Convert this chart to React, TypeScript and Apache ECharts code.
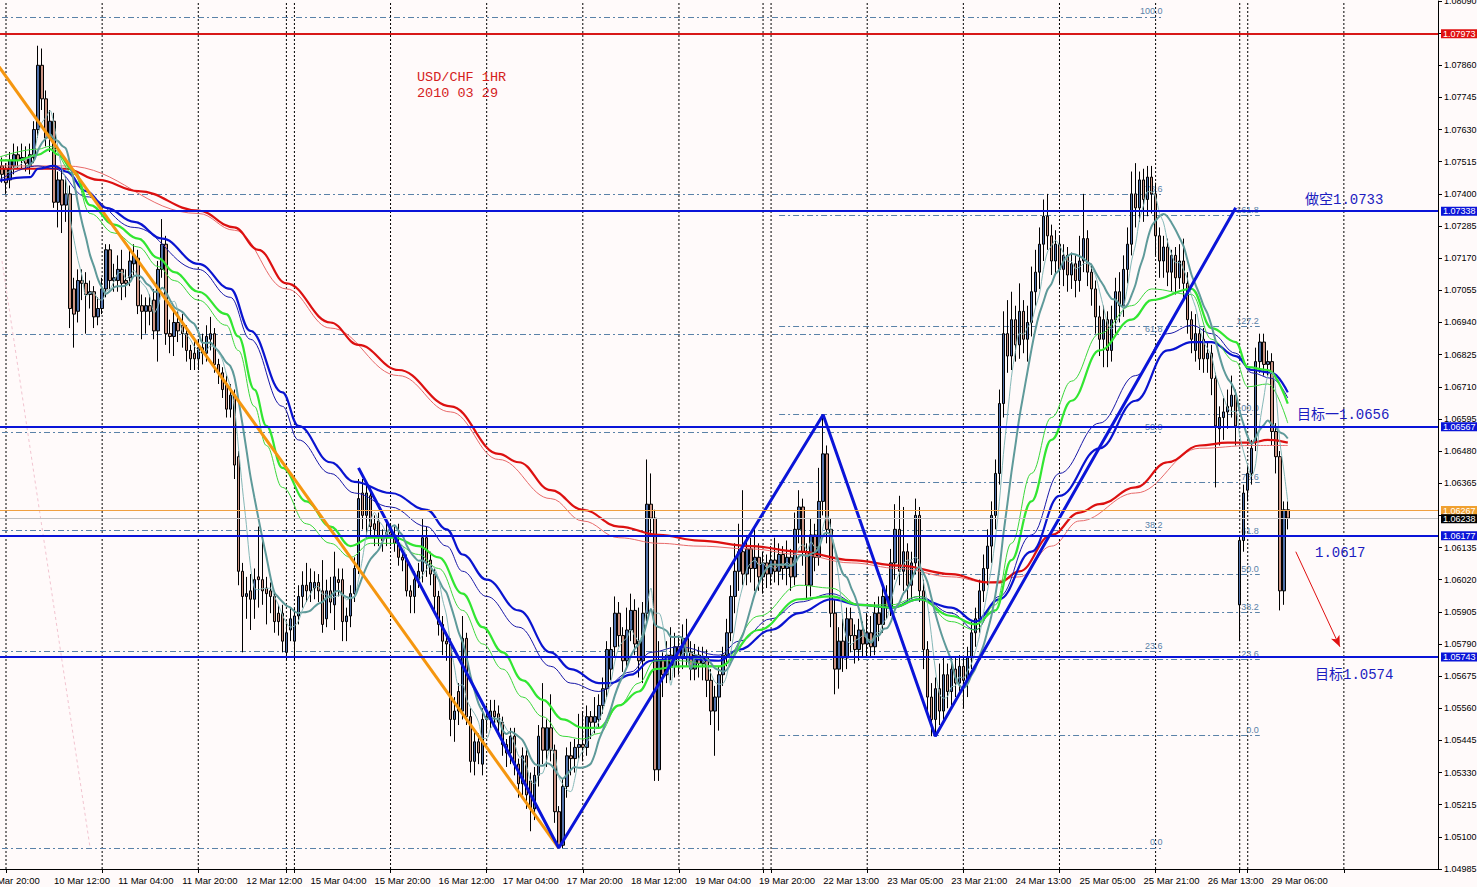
import React, { useEffect, useRef } from "react";
import * as echarts from "echarts";

// ---- time axis: trading sessions [day, first hour, last hour] ----
const sessions: [string, number, number][] = [
  ["9 Mar", 20, 23], ["10 Mar", 0, 23], ["11 Mar", 0, 23], ["12 Mar", 0, 21], ["14 Mar", 22, 23],
  ["15 Mar", 0, 23], ["16 Mar", 0, 23], ["17 Mar", 0, 23], ["18 Mar", 0, 23], ["19 Mar", 0, 20],
  ["21 Mar", 22, 23], ["22 Mar", 0, 23], ["23 Mar", 0, 23], ["24 Mar", 0, 23], ["25 Mar", 0, 23],
  ["26 Mar", 0, 20], ["28 Mar", 22, 23], ["29 Mar", 0, 23], ["30 Mar", 0, 23],
];
const firstVisibleBar = 3;
const lastLabelledBar = 320;

// ---- hourly candles [open, close, low, high] ----
const candles: number[][] = [
  [1.0748,1.0750,1.0745,1.0753],[1.0750,1.0747,1.0744,1.0752],[1.0747,1.0750,1.0745,1.0754],[1.0750,1.0747,1.0744,1.0753],
  [1.0749,1.0744,1.0740,1.0751],[1.0745,1.0752,1.0742,1.0755],[1.0750,1.0754,1.0747,1.0758],[1.0754,1.0752,1.0749,1.0757],
  [1.0752,1.0753,1.0749,1.0758],[1.0753,1.0751,1.0748,1.0757],[1.0750,1.0754,1.0747,1.0758],[1.0753,1.0763,1.0751,1.0766],
  [1.0763,1.0786,1.0760,1.0793],[1.0786,1.0774,1.0770,1.0792],[1.0774,1.0760,1.0757,1.0777],[1.0760,1.0766,1.0755,1.0770],
  [1.0766,1.0737,1.0735,1.0769],[1.0737,1.0745,1.0728,1.0748],[1.0745,1.0736,1.0726,1.0750],[1.0736,1.0740,1.0730,1.0746],
  [1.0740,1.0699,1.0692,1.0743],[1.0706,1.0697,1.0685,1.0710],[1.0698,1.0709,1.0694,1.0713],[1.0709,1.0708,1.0702,1.0713],
  [1.0708,1.0704,1.0690,1.0712],[1.0704,1.0705,1.0699,1.0709],[1.0705,1.0696,1.0692,1.0707],[1.0696,1.0699,1.0693,1.0703],
  [1.0699,1.0706,1.0697,1.0710],[1.0706,1.0720,1.0703,1.0722],[1.0720,1.0709,1.0706,1.0722],[1.0709,1.0710,1.0705,1.0715],
  [1.0709,1.0713,1.0705,1.0718],[1.0713,1.0708,1.0702,1.0720],[1.0709,1.0708,1.0703,1.0713],[1.0710,1.0716,1.0707,1.0720],
  [1.0715,1.0718,1.0711,1.0722],[1.0717,1.0700,1.0697,1.0720],[1.0700,1.0698,1.0688,1.0704],[1.0698,1.0700,1.0690,1.0703],
  [1.0700,1.0698,1.0693,1.0704],[1.0702,1.0691,1.0688,1.0706],[1.0691,1.0713,1.0680,1.0716],[1.0713,1.0722,1.0710,1.0731],
  [1.0722,1.0690,1.0686,1.0725],[1.0690,1.0689,1.0683,1.0695],[1.0689,1.0694,1.0682,1.0698],[1.0694,1.0691,1.0687,1.0698],
  [1.0693,1.0690,1.0685,1.0697],[1.0690,1.0684,1.0680,1.0693],[1.0684,1.0681,1.0677,1.0686],[1.0683,1.0681,1.0677,1.0688],
  [1.0681,1.0685,1.0677,1.0688],[1.0685,1.0683,1.0679,1.0690],[1.0683,1.0689,1.0680,1.0693],[1.0688,1.0690,1.0684,1.0696],
  [1.0690,1.0679,1.0676,1.0692],[1.0679,1.0676,1.0672,1.0681],[1.0676,1.0670,1.0667,1.0678],[1.0672,1.0663,1.0660,1.0675],
  [1.0663,1.0668,1.0660,1.0672],[1.0668,1.0643,1.0638,1.0670],[1.0646,1.0605,1.0600,1.0648],[1.0605,1.0596,1.0576,1.0608],
  [1.0596,1.0597,1.0588,1.0603],[1.0598,1.0595,1.0584,1.0604],[1.0595,1.0602,1.0588,1.0606],[1.0603,1.0602,1.0592,1.0621],
  [1.0602,1.0598,1.0593,1.0618],[1.0599,1.0597,1.0586,1.0603],[1.0598,1.0596,1.0590,1.0601],[1.0596,1.0587,1.0583,1.0598],
  [1.0590,1.0587,1.0582,1.0593],[1.0590,1.0580,1.0576,1.0593],[1.0576,1.0583,1.0573,1.0587],[1.0584,1.0588,1.0580,1.0592],
  [1.0580,1.0589,1.0573,1.0592],[1.0589,1.0596,1.0586,1.0600],[1.0596,1.0600,1.0592,1.0605],[1.0600,1.0598,1.0594,1.0608],
  [1.0598,1.0601,1.0594,1.0606],[1.0599,1.0601,1.0595,1.0605],[1.0601,1.0598,1.0594,1.0604],[1.0598,1.0586,1.0583,1.0609],
  [1.0588,1.0598,1.0585,1.0602],[1.0598,1.0594,1.0590,1.0603],[1.0593,1.0603,1.0584,1.0612],[1.0602,1.0601,1.0596,1.0606],
  [1.0602,1.0587,1.0580,1.0606],[1.0587,1.0589,1.0580,1.0592],[1.0589,1.0597,1.0585,1.0600],[1.0597,1.0606,1.0594,1.0610],
  [1.0606,1.0631,1.0604,1.0638],[1.0633,1.0625,1.0620,1.0638],[1.0625,1.0633,1.0617,1.0636],[1.0632,1.0621,1.0617,1.0635],
  [1.0622,1.0620,1.0614,1.0625],[1.0623,1.0617,1.0614,1.0626],[1.0617,1.0616,1.0612,1.0620],[1.0617,1.0619,1.0614,1.0623],
  [1.0619,1.0618,1.0614,1.0622],[1.0618,1.0615,1.0612,1.0621],[1.0615,1.0610,1.0607,1.0622],[1.0610,1.0609,1.0605,1.0612],
  [1.0609,1.0598,1.0596,1.0611],[1.0598,1.0596,1.0590,1.0600],[1.0596,1.0602,1.0590,1.0605],[1.0602,1.0605,1.0599,1.0608],
  [1.0605,1.0617,1.0601,1.0624],[1.0617,1.0608,1.0603,1.0621],[1.0609,1.0604,1.0600,1.0612],[1.0604,1.0596,1.0590,1.0606],
  [1.0596,1.0586,1.0582,1.0598],[1.0586,1.0580,1.0575,1.0589],[1.0580,1.0579,1.0573,1.0583],[1.0579,1.0552,1.0546,1.0581],
  [1.0552,1.0555,1.0544,1.0560],[1.0562,1.0555,1.0550,1.0565],[1.0555,1.0581,1.0552,1.0589],[1.0581,1.0553,1.0550,1.0583],
  [1.0553,1.0537,1.0533,1.0556],[1.0537,1.0544,1.0532,1.0548],[1.0544,1.0540,1.0536,1.0547],[1.0536,1.0552,1.0532,1.0556],
  [1.0552,1.0553,1.0547,1.0557],[1.0552,1.0555,1.0549,1.0559],[1.0555,1.0553,1.0549,1.0559],[1.0554,1.0551,1.0546,1.0557],
  [1.0551,1.0543,1.0539,1.0553],[1.0543,1.0540,1.0535,1.0545],[1.0540,1.0546,1.0536,1.0549],[1.0546,1.0536,1.0532,1.0549],
  [1.0536,1.0529,1.0524,1.0538],[1.0529,1.0539,1.0525,1.0542],[1.0539,1.0525,1.0520,1.0541],[1.0530,1.0520,1.0512,1.0533],
  [1.0520,1.0532,1.0516,1.0535],[1.0532,1.0546,1.0528,1.0550],[1.0549,1.0541,1.0536,1.0565],[1.0541,1.0549,1.0535,1.0552],
  [1.0549,1.0541,1.0537,1.0561],[1.0541,1.0519,1.0515,1.0543],[1.0519,1.0507,1.0506,1.0521],[1.0507,1.0528,1.0506,1.0531],
  [1.0528,1.0539,1.0524,1.0542],[1.0539,1.0538,1.0532,1.0544],[1.0538,1.0542,1.0533,1.0545],[1.0542,1.0543,1.0538,1.0554],
  [1.0543,1.0542,1.0537,1.0555],[1.0542,1.0553,1.0539,1.0557],[1.0553,1.0551,1.0545,1.0555],[1.0551,1.0553,1.0547,1.0560],
  [1.0552,1.0557,1.0549,1.0561],[1.0557,1.0563,1.0554,1.0567],[1.0563,1.0577,1.0560,1.0580],[1.0570,1.0577,1.0566,1.0585],
  [1.0578,1.0590,1.0574,1.0596],[1.0590,1.0582,1.0578,1.0594],[1.0582,1.0573,1.0569,1.0585],[1.0573,1.0584,1.0570,1.0592],
  [1.0584,1.0591,1.0580,1.0597],[1.0591,1.0579,1.0575,1.0595],[1.0580,1.0573,1.0567,1.0592],[1.0573,1.0590,1.0565,1.0594],
  [1.0590,1.0629,1.0587,1.0645],[1.0629,1.0624,1.0618,1.0640],[1.0624,1.0534,1.0530,1.0627],[1.0534,1.0573,1.0530,1.0580],
  [1.0573,1.0568,1.0560,1.0576],[1.0568,1.0575,1.0565,1.0580],[1.0575,1.0571,1.0566,1.0585],[1.0571,1.0578,1.0567,1.0583],
  [1.0578,1.0574,1.0568,1.0582],[1.0574,1.0581,1.0570,1.0586],[1.0581,1.0576,1.0571,1.0588],[1.0576,1.0570,1.0566,1.0580],
  [1.0570,1.0575,1.0566,1.0579],[1.0575,1.0572,1.0567,1.0578],[1.0572,1.0574,1.0566,1.0578],[1.0574,1.0566,1.0560,1.0577],
  [1.0566,1.0555,1.0550,1.0570],[1.0555,1.0560,1.0539,1.0564],[1.0560,1.0568,1.0548,1.0571],[1.0568,1.0575,1.0564,1.0578],
  [1.0575,1.0583,1.0571,1.0588],[1.0583,1.0596,1.0580,1.0600],[1.0596,1.0605,1.0590,1.0615],[1.0605,1.0612,1.0598,1.0622],
  [1.0612,1.0604,1.0600,1.0634],[1.0604,1.0613,1.0600,1.0618],[1.0613,1.0606,1.0601,1.0617],[1.0606,1.0610,1.0598,1.0620],
  [1.0610,1.0603,1.0598,1.0615],[1.0603,1.0608,1.0597,1.0612],[1.0608,1.0604,1.0599,1.0611],[1.0604,1.0609,1.0600,1.0614],
  [1.0609,1.0605,1.0601,1.0617],[1.0605,1.0611,1.0600,1.0615],[1.0611,1.0606,1.0602,1.0614],[1.0606,1.0610,1.0600,1.0616],
  [1.0610,1.0603,1.0598,1.0613],[1.0603,1.0620,1.0600,1.0626],[1.0620,1.0628,1.0615,1.0634],[1.0628,1.0612,1.0607,1.0631],
  [1.0612,1.0600,1.0595,1.0615],[1.0600,1.0618,1.0596,1.0624],[1.0618,1.0610,1.0605,1.0622],[1.0610,1.0630,1.0607,1.0642],
  [1.0630,1.0647,1.0625,1.0661],[1.0647,1.0620,1.0615,1.0650],[1.0620,1.0590,1.0585,1.0624],[1.0590,1.0570,1.0561,1.0595],
  [1.0570,1.0580,1.0563,1.0585],[1.0580,1.0574,1.0569,1.0588],[1.0574,1.0588,1.0570,1.0592],[1.0588,1.0582,1.0576,1.0592],
  [1.0582,1.0577,1.0572,1.0586],[1.0577,1.0584,1.0573,1.0588],[1.0584,1.0579,1.0574,1.0587],[1.0579,1.0583,1.0574,1.0590],
  [1.0583,1.0578,1.0574,1.0589],[1.0578,1.0590,1.0575,1.0594],[1.0590,1.0586,1.0580,1.0596],[1.0586,1.0596,1.0583,1.0600],
  [1.0596,1.0592,1.0588,1.0600],[1.0592,1.0608,1.0589,1.0613],[1.0608,1.0620,1.0602,1.0629],[1.0620,1.0605,1.0600,1.0632],
  [1.0605,1.0612,1.0598,1.0628],[1.0612,1.0600,1.0595,1.0615],[1.0600,1.0608,1.0595,1.0612],[1.0608,1.0625,1.0604,1.0631],
  [1.0625,1.0598,1.0594,1.0628],[1.0598,1.0577,1.0570,1.0602],[1.0577,1.0560,1.0555,1.0580],[1.0560,1.0552,1.0546,1.0565],
  [1.0552,1.0563,1.0546,1.0567],[1.0563,1.0555,1.0550,1.0572],[1.0555,1.0568,1.0551,1.0574],[1.0568,1.0562,1.0556,1.0572],
  [1.0562,1.0570,1.0557,1.0574],[1.0570,1.0565,1.0560,1.0574],[1.0565,1.0571,1.0561,1.0575],[1.0571,1.0566,1.0556,1.0574],
  [1.0566,1.0574,1.0560,1.0578],[1.0574,1.0583,1.0570,1.0587],[1.0583,1.0588,1.0578,1.0592],[1.0588,1.0598,1.0583,1.0602],
  [1.0598,1.0606,1.0594,1.0611],[1.0606,1.0614,1.0600,1.0620],[1.0614,1.0625,1.0608,1.0630],[1.0625,1.0640,1.0620,1.0645],
  [1.0640,1.0665,1.0636,1.0670],[1.0665,1.0690,1.0660,1.0698],[1.0690,1.0682,1.0676,1.0702],[1.0682,1.0695,1.0677,1.0705],
  [1.0695,1.0686,1.0680,1.0700],[1.0686,1.0698,1.0681,1.0708],[1.0698,1.0688,1.0683,1.0702],[1.0688,1.0694,1.0680,1.0700],
  [1.0694,1.0705,1.0689,1.0714],[1.0705,1.0712,1.0700,1.0720],[1.0712,1.0722,1.0706,1.0728],[1.0722,1.0732,1.0716,1.0738],
  [1.0732,1.0725,1.0720,1.0740],[1.0725,1.0716,1.0711,1.0729],[1.0716,1.0722,1.0711,1.0727],[1.0722,1.0713,1.0708,1.0725],
  [1.0713,1.0718,1.0707,1.0722],[1.0718,1.0711,1.0705,1.0721],[1.0711,1.0715,1.0706,1.0719],[1.0715,1.0709,1.0703,1.0718],
  [1.0709,1.0716,1.0705,1.0725],[1.0716,1.0724,1.0712,1.0740],[1.0724,1.0712,1.0707,1.0727],[1.0712,1.0706,1.0700,1.0715],
  [1.0706,1.0696,1.0690,1.0709],[1.0696,1.0688,1.0682,1.0700],[1.0688,1.0695,1.0678,1.0700],[1.0695,1.0684,1.0678,1.0698],
  [1.0684,1.0695,1.0680,1.0700],[1.0695,1.0705,1.0690,1.0710],[1.0705,1.0700,1.0694,1.0712],[1.0700,1.0713,1.0696,1.0718],
  [1.0713,1.0722,1.0708,1.0728],[1.0722,1.0740,1.0718,1.0748],[1.0740,1.0735,1.0728,1.0751],[1.0735,1.0745,1.0730,1.0748],
  [1.0745,1.0738,1.0730,1.0749],[1.0738,1.0746,1.0732,1.0750],[1.0746,1.0740,1.0733,1.0750],[1.0740,1.0725,1.0718,1.0744],
  [1.0725,1.0716,1.0710,1.0728],[1.0716,1.0721,1.0710,1.0725],[1.0721,1.0712,1.0707,1.0724],[1.0712,1.0718,1.0705,1.0720],
  [1.0718,1.0710,1.0704,1.0721],[1.0710,1.0716,1.0706,1.0722],[1.0716,1.0708,1.0702,1.0724],[1.0708,1.0695,1.0690,1.0712],
  [1.0695,1.0688,1.0683,1.0698],[1.0684,1.0690,1.0680,1.0697],[1.0690,1.0681,1.0677,1.0693],[1.0688,1.0681,1.0676,1.0692],
  [1.0681,1.0683,1.0676,1.0687],[1.0683,1.0674,1.0668,1.0686],[1.0674,1.0657,1.0635,1.0676],[1.0656,1.0660,1.0650,1.0664],
  [1.0660,1.0662,1.0652,1.0667],[1.0662,1.0664,1.0656,1.0670],[1.0664,1.0668,1.0660,1.0675],[1.0668,1.0657,1.0650,1.0670],
  [1.0593,1.0616,1.0580,1.0618],[1.0616,1.0633,1.0612,1.0636],[1.0634,1.0640,1.0630,1.0643],[1.0640,1.0649,1.0636,1.0652],
  [1.0651,1.0680,1.0648,1.0685],[1.0680,1.0687,1.0676,1.0690],[1.0687,1.0679,1.0675,1.0690],[1.0679,1.0680,1.0675,1.0684],
  [1.0680,1.0655,1.0650,1.0683],[1.0655,1.0646,1.0640,1.0658],[1.0646,1.0598,1.0591,1.0648],[1.0598,1.0627,1.0593,1.0630],
  [1.0627,1.0624,1.0620,1.0630],
];

// ---- moving averages: [bar index, price] ----
const maRedThick: number[][] = [
  [0,1.0749],[15,1.0749],[19,1.0749],[27,1.0745],[37,1.0741],[52,1.0734],[61,1.0728],[67,1.0720],[74,1.0708],
  [85,1.0694],[92,1.0686],[102,1.0677],[115,1.0664],[127,1.0647],[132,1.0644],[140,1.0634],[148,1.0627],
  [157,1.0621],[167,1.0618],[177,1.0616],[190,1.0614],[202,1.0612],[215,1.0609],[227,1.0607],[240,1.0604],
  [249,1.0601],[252,1.0601],[257,1.0605],[265,1.0618],[272,1.0626],[277,1.0629],[286,1.0635],[294,1.0644],
  [302,1.0650],[309,1.0651],[315,1.0651],[319,1.0652],[324,1.0651],
];
const maRedThin: number[][] = [
  [0,1.0750],[19,1.0750],[52,1.0733],[61,1.0727],[74,1.0706],[85,1.0692],[102,1.0675],[115,1.0662],[127,1.0645],
  [140,1.0631],[148,1.0623],[157,1.0617],[167,1.0615],[177,1.0614],[190,1.0613],[202,1.0611],[215,1.0608],
  [227,1.0606],[240,1.0603],[249,1.0601],[257,1.0603],[265,1.0614],[272,1.0623],[286,1.0633],[302,1.0649],
  [315,1.0650],[324,1.0650],
];
const maBlueThick: number[][] = [
  [0,1.0744],[10,1.0746],[12,1.0749],[16,1.0750],[19,1.0748],[24,1.0741],[29,1.0735],[36,1.0730],[43,1.0724],
  [52,1.0715],[60,1.0706],[65,1.0691],[73,1.0669],[77,1.0657],[85,1.0644],[91,1.0637],[100,1.0633],[109,1.0627],
  [114,1.0620],[118,1.0611],[124,1.0602],[132,1.0591],[140,1.0576],[145,1.0570],[152,1.0565],[155,1.0565],
  [160,1.0568],[165,1.0573],[172,1.0574],[182,1.0573],[187,1.0577],[195,1.0584],[202,1.0590],[210,1.0595],
  [217,1.0593],[225,1.0592],[232,1.0595],[240,1.0592],[246,1.0587],[252,1.0595],[260,1.0612],[267,1.0632],
  [277,1.0649],[286,1.0666],[294,1.0684],[300,1.0687],[305,1.0687],[311,1.0682],[315,1.0677],[320,1.0676],[324,1.0669],
];
const maBlueThin: number[][] = [
  [0,1.0743],[12,1.0750],[16,1.0749],[24,1.0739],[36,1.0728],[52,1.0713],[60,1.0703],[65,1.0688],[73,1.0664],
  [77,1.0652],[85,1.0640],[91,1.0633],[100,1.0628],[109,1.0621],[114,1.0614],[118,1.0605],[124,1.0596],
  [132,1.0585],[140,1.0571],[145,1.0565],[152,1.0562],[160,1.0569],[165,1.0576],[172,1.0578],[182,1.0575],
  [187,1.0580],[195,1.0588],[202,1.0594],[210,1.0597],[217,1.0593],[225,1.0592],[232,1.0596],[240,1.0590],
  [246,1.0584],[252,1.0596],[260,1.0618],[267,1.0640],[277,1.0658],[286,1.0675],[294,1.0690],[300,1.0693],
  [305,1.0690],[311,1.0683],[315,1.0676],[320,1.0674],[324,1.0667],
];
const maGreenThick: number[][] = [
  [0,1.0752],[7,1.0752],[12,1.0754],[15,1.0756],[17,1.0754],[21,1.0748],[25,1.0736],[31,1.0729],[37,1.0724],
  [42,1.0717],[46,1.0712],[52,1.0705],[59,1.0697],[62,1.0689],[66,1.0670],[69,1.0657],[73,1.0642],[79,1.0630],
  [85,1.0621],[90,1.0614],[95,1.0617],[101,1.0617],[107,1.0614],[112,1.0610],[118,1.0597],[123,1.0585],
  [128,1.0576],[133,1.0566],[138,1.0559],[143,1.0552],[148,1.0549],[152,1.0549],[157,1.0557],[162,1.0562],
  [166,1.0570],[172,1.0571],[182,1.0571],[192,1.0584],[202,1.0595],[210,1.0596],[217,1.0593],[225,1.0592],
  [232,1.0595],[240,1.0589],[246,1.0586],[251,1.0591],[255,1.0609],[260,1.0630],[265,1.0652],[270,1.0666],
  [277,1.0684],[285,1.0695],[290,1.0702],[300,1.0706],[305,1.0692],[311,1.0687],[314,1.0678],[319,1.0677],[324,1.0665],
];
const maGreenThin: number[][] = [
  [0,1.0752],[12,1.0756],[15,1.0757],[21,1.0747],[25,1.0733],[31,1.0726],[37,1.0721],[42,1.0714],[46,1.0709],
  [52,1.0702],[59,1.0693],[62,1.0684],[66,1.0664],[69,1.0650],[73,1.0635],[79,1.0622],[85,1.0615],[90,1.0610],
  [95,1.0615],[101,1.0615],[107,1.0611],[112,1.0606],[118,1.0591],[123,1.0579],[128,1.0570],[133,1.0560],
  [138,1.0553],[143,1.0546],[148,1.0545],[152,1.0547],[157,1.0557],[162,1.0565],[166,1.0573],[172,1.0573],
  [182,1.0571],[192,1.0589],[202,1.0600],[210,1.0599],[217,1.0593],[225,1.0593],[232,1.0596],[240,1.0587],
  [246,1.0584],[251,1.0593],[255,1.0615],[260,1.0640],[265,1.0660],[270,1.0673],[277,1.0690],[285,1.0700],
  [290,1.0706],[300,1.0704],[305,1.0688],[311,1.0680],[314,1.0671],[319,1.0672],[324,1.0658],
];
const shortMaPeriods = [10, 5];

// ---- drawn objects ----
const orangeTrend: number[][] = [[0, 1.0790], [142, 1.0506]];
const zigzag: number[][] = [[92, 1.0642], [142, 1.0506], [208, 1.0661], [236, 1.0546], [311, 1.0735]];
const fibLevels1 = [0, 23.6, 38.2, 50, 61.8, 78.6, 100];
const fibLevels2 = [0, 23.6, 38.2, 50, 61.8, 78.6, 100, 127.2, 161.8];
const fib1 = { low: 1.05061, high: 1.08033, from: 3, to: 293 };
const fib2 = { low: 1.05463, high: 1.06613, from: 197, to: 317 };
const fibBase1: number[][] = [[3, 1.0716], [25, 1.0506]];
const priceLevels = [1.07973, 1.07338, 1.06567, 1.06267, 1.06238, 1.06177, 1.05743];
const arrow: number[][] = [[326, 1.0612], [337, 1.0578]];
const yMin = 1.04985, yMax = 1.0809, yStep = 0.00115;

const notes = [
  { text: "USD/CHF 1HR", x: 417, y: 77, kind: "title" },
  { text: "2010 03 29", x: 417, y: 93, kind: "title" },
  { text: "做空1.0733", x: 1305, y: 200, kind: "note" },
  { text: "目标一1.0656", x: 1297, y: 415, kind: "note" },
  { text: "1.0617", x: 1315, y: 553, kind: "note" },
  { text: "目标1.0574", x: 1315, y: 675, kind: "note" },
];

export default function App() {
  const ref = useRef<HTMLDivElement>(null);
  useEffect(() => {
    if (!ref.current) return;
    const chart = echarts.init(ref.current, undefined, { renderer: "svg" });

    const times: string[] = [];
    const separators: number[] = [];
    sessions.forEach(([day, h0, h1], si) => {
      if (si > 0) separators.push(times.length);
      for (let h = h0; h <= h1; h++) times.push(`${day} ${String(h).padStart(2, "0")}:00`);
    });

    // vertical day separators as broken line segments (bar index, full price range)
    const separatorSegments: any[] = [];
    separators.forEach((i) => {
      separatorSegments.push([i, yMin], [i, yMax], [i, null]);
    });

    const sma = (p: number) =>
      candles.map((_, i) => {
        if (i < p - 1) return "-";
        let s = 0;
        for (let k = i - p + 1; k <= i; k++) s += candles[k][1];
        return +(s / p).toFixed(5);
      });

    const lineStyleMap: Record<number, any> = {
      0: { line: "#d81818", w: 2, box: "#e01010", txt: "#fff" },
      1: { line: "#0a14d8", w: 2, box: "#0a14d8", txt: "#fff" },
      2: { line: "#0a14d8", w: 2, box: "#0a14d8", txt: "#fff" },
      3: { line: "#f0a040", w: 1, box: "#f0a030", txt: "#fff" },
      4: { line: "#c0c0c0", w: 1, box: "#000000", txt: "#fff" },
      5: { line: "#0a14d8", w: 2, box: "#0a14d8", txt: "#fff" },
      6: { line: "#0a14d8", w: 2, box: "#0a14d8", txt: "#fff" },
    };

    const fibColor = "#5a82a8";
    const fibData = (f: any, levels: number[]) =>
      levels.map((lv) => {
        const price = f.low + ((f.high - f.low) * lv) / 100;
        return [
          { coord: [f.from, price], label: { formatter: lv.toFixed(1) } },
          { coord: [f.to, price] },
        ];
      });

    const maLine = (data: any, color: string, width: number, z = 4) => ({
      type: "line",
      data,
      smooth: 0.4,
      smoothMonotone: "x",
      showSymbol: false,
      silent: true,
      lineStyle: { color, width },
      z,
    });

    const carrier = (markLine: any) => ({
      type: "line",
      data: [],
      silent: true,
      markLine: { silent: true, precision: 5, emphasis: { disabled: true }, ...markLine },
    });

    const option: any = {
      animation: false,
      backgroundColor: "#fffafa",
      grid: { left: 0, right: 39, top: 1, bottom: 18, outerBoundsMode: "none", containLabel: false },
      xAxis: {
        type: "category",
        data: times,
        min: firstVisibleBar,
        boundaryGap: true,
        axisLine: { lineStyle: { color: "#000", width: 1 } },
        axisTick: {
          show: true,
          alignWithLabel: true,
          interval: (i: number) => separators.includes(i),
          length: 4,
          lineStyle: { color: "#000" },
        },
        axisLabel: {
          interval: (i: number) => i % 16 === 0 && i <= lastLabelledBar,
          align: "left",
          color: "#000",
          fontSize: 9.5,
          fontFamily: "Liberation Sans",
          margin: 6,
        },
        splitLine: { show: false },
      },
      yAxis: {
        type: "value",
        position: "right",
        min: yMin,
        max: yMax,
        interval: yStep,
        axisLine: { show: true, lineStyle: { color: "#000", width: 1 } },
        axisTick: { show: true, length: 4, lineStyle: { color: "#000" } },
        axisLabel: {
          color: "#000",
          fontSize: 9,
          fontFamily: "Liberation Sans",
          margin: 6,
          formatter: (v: number) => v.toFixed(5),
        },
        splitLine: { show: false },
      },
      series: [
        {
          type: "line",
          data: separatorSegments,
          showSymbol: false,
          silent: true,
          connectNulls: false,
          lineStyle: { color: "#000", type: [2, 2], width: 1 },
          z: 1,
        },
        carrier({
          symbol: ["none", "none"],
          z: 2,
          lineStyle: { color: fibColor, type: [6, 3, 2, 3], width: 1 },
          label: {
            show: true,
            position: "insideEndTop",
            color: fibColor,
            fontSize: 9,
            fontFamily: "Liberation Sans",
            distance: 1,
          },
          data: [...fibData(fib1, fibLevels1), ...fibData(fib2, fibLevels2)],
        }),
        carrier({
          symbol: ["none", "none"],
          z: 2,
          label: { show: false },
          lineStyle: { color: "#f2c4d0", type: [3, 3], width: 1 },
          data: [[{ coord: fibBase1[0] }, { coord: fibBase1[1] }]],
        }),
        {
          type: "candlestick",
          data: candles,
          barWidth: 3,
          silent: true,
          z: 3,
          itemStyle: {
            color: "#4f6fa8",
            color0: "#cc9484",
            borderColor: "#000",
            borderColor0: "#000",
            borderWidth: 1,
          },
        },
        maLine(maRedThin, "#e86a6a", 1),
        maLine(maRedThick, "#dc1010", 2.2),
        maLine(maBlueThin, "#1818a8", 1),
        maLine(maBlueThick, "#0a14d0", 2.2),
        maLine(maGreenThin, "#3cd83c", 1),
        maLine(maGreenThick, "#32e632", 2.2),
        {
          type: "line",
          data: sma(shortMaPeriods[0]),
          showSymbol: false,
          silent: true,
          smooth: 0.3,
          lineStyle: { color: "#5f9a9a", width: 2 },
          z: 4,
        },
        {
          type: "line",
          data: sma(shortMaPeriods[1]),
          showSymbol: false,
          silent: true,
          smooth: 0.3,
          lineStyle: { color: "#86b8b8", width: 1 },
          z: 4,
        },
        {
          type: "line",
          data: orangeTrend,
          showSymbol: false,
          silent: true,
          lineStyle: { color: "#f5960f", width: 3 },
          z: 6,
        },
        {
          type: "line",
          data: zigzag,
          showSymbol: false,
          silent: true,
          lineStyle: { color: "#0a14d8", width: 3 },
          z: 6,
        },
        carrier({
          symbol: ["none", "none"],
          z: 7,
          data: priceLevels.map((v, i) => ({
            yAxis: v,
            lineStyle: { color: lineStyleMap[i].line, width: lineStyleMap[i].w, type: "solid" },
            label: {
              show: true,
              position: "end",
              distance: 3,
              formatter: v.toFixed(5),
              backgroundColor: lineStyleMap[i].box,
              color: lineStyleMap[i].txt,
              fontSize: 9,
              fontFamily: "Liberation Sans",
              padding: [0, 3, 0, 2],
            },
          })),
        }),
        carrier({
          symbol: ["none", "arrow"],
          symbolSize: [7, 11],
          z: 7,
          label: { show: false },
          lineStyle: { color: "#e01010", width: 1, type: "solid" },
          data: [[{ coord: arrow[0] }, { coord: arrow[1] }]],
        }),
      ],
      graphic: [
        {
          type: "text",
          x: -11,
          y: 880,
          silent: true,
          style: {
            text: times[0],
            fill: "#000",
            font: '9.5px "Liberation Sans"',
            align: "left",
            verticalAlign: "middle",
          },
        },
        ...notes.map((n) => ({
          type: "text",
          x: n.x,
          y: n.y,
          z: 100,
          silent: true,
          style: {
            text: n.text,
            fill: n.kind === "title" ? "#d42020" : "#1c1cc0",
            font:
              n.kind === "title"
                ? '13.5px "Liberation Mono"'
                : '14px "Liberation Mono", "Noto Sans CJK SC"',
            align: "left",
            verticalAlign: "middle",
          },
        })),
      ],
    };
    chart.setOption(option);
    return () => chart.dispose();
  }, []);
  return (
    <div
      ref={ref}
      style={{ position: "fixed", left: 0, top: 0, width: "1477px", height: "887px" }}
    />
  );
}
